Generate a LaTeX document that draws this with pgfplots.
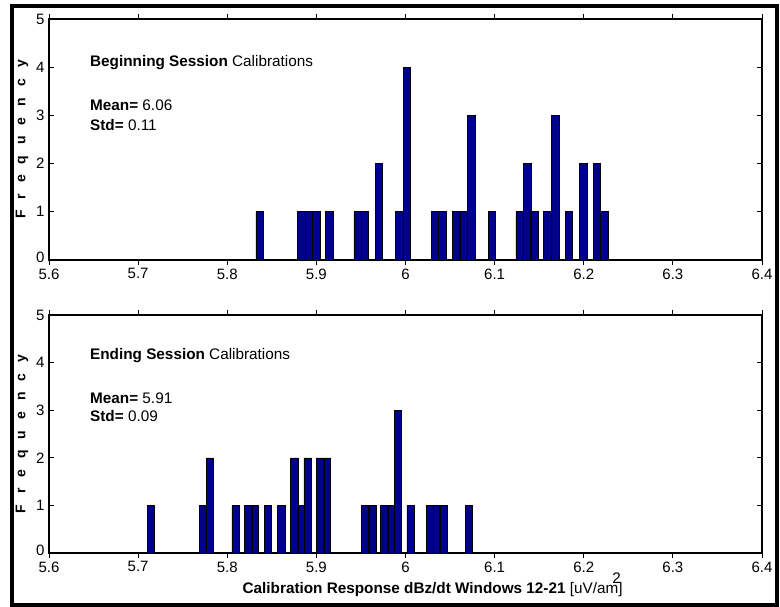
\documentclass[border=0pt]{standalone}
\usepackage{pgfplots}
\pgfplotsset{compat=1.18}
\usepackage{fontspec}
\setmainfont{Liberation Sans}
\definecolor{barblue}{RGB}{0,0,143}
\tikzset{ann/.style={anchor=west, font=\fontsize{15.3}{17}\selectfont, inner sep=0pt}}
\newcommand{\gap}{\hspace{11pt}}
\pgfplotsset{
  hist/.style={
    width=713pt, scale only axis,
    xmin=5.6, xmax=6.4, ymin=0, ymax=5,
    xtick={5.6,5.7,5.8,5.9,6.0,6.1,6.2,6.3,6.4},
    ytick={0,1,2,3,4,5},
    yticklabels={\raisebox{5pt}{0},1,2,3,4,5},
    tick align=inside,
    major tick length=5pt,
    axis line style={line width=1.3pt},
    every tick/.style={black, line width=0.9pt},
    tick label style={font=\fontsize{15}{15}\selectfont},
    /pgf/number format/assume math mode=true,
    xticklabel style={yshift=0pt},
    yticklabel style={xshift=-1pt},
    ybar, bar width=0.0083,
    ylabel={\textbf{F\gap r\gap e\gap q\gap u\gap e\gap n\gap c\gap y}},
    ylabel style={at={(axis description cs:-0.038,0.5)}, anchor=center, font=\fontsize{14}{14}\selectfont},
    clip=false,
  },
  bars/.style={fill=barblue, draw=black, line width=0.6pt},
}
\begin{document}
\begin{tikzpicture}
\useasboundingbox (0,0) rectangle (780pt,-607pt);
\draw[line width=4pt] (12pt,-6.5pt) rectangle (777pt,-604.5pt);
\begin{axis}[hist, height=241pt, at={(49pt,-19pt)}, anchor=north west]
\addplot[bars] coordinates {
(5.8362,1) (5.8832,1) (5.8914,1) (5.8999,1) (5.9145,1)
(5.9462,1) (5.9543,1) (5.9700,2) (5.9932,1) (6.0016,4)
(6.0329,1) (6.0411,1) (6.0566,1) (6.0654,1) (6.0738,3)
(6.0969,1) (6.1281,1) (6.1365,2) (6.1446,1) (6.1593,1)
(6.1679,3) (6.1834,1) (6.1993,2) (6.2147,2) (6.2229,1)
};
\node[ann] at (axis cs:5.646,4.1) {\textbf{Beginning Session} Calibrations};
\node[ann] at (axis cs:5.646,3.22) {\textbf{Mean=} 6.06};
\node[ann] at (axis cs:5.646,2.80) {\textbf{Std=} 0.11};
\end{axis}
\begin{axis}[hist, height=238pt, at={(49pt,-315pt)}, anchor=north west,
  xlabel={\textbf{Calibration Response dBz/dt Windows 12-21} [uV/a\rlap{\hspace{0.45em}\raisebox{1.25ex}{2}}m]},
  xlabel style={at={(rel axis cs:0.538,0)}, yshift=-32pt, anchor=center, font=\fontsize{15.3}{17}\selectfont}]
\addplot[bars] coordinates {
(5.7145,1) (5.7728,1) (5.7807,2) (5.8093,1) (5.8236,1)
(5.8312,1) (5.8458,1) (5.8606,1) (5.8752,2) (5.8826,1)
(5.8901,2) (5.9042,2) (5.9117,2) (5.9549,1) (5.9627,1)
(5.9763,1) (5.9836,1) (5.9914,3) (6.0057,1) (6.0276,1)
(6.0351,1) (6.0425,1) (6.0712,1)
};
\node[ann] at (axis cs:5.646,4.15) {\textbf{Ending Session} Calibrations};
\node[ann] at (axis cs:5.646,3.25) {\textbf{Mean=} 5.91};
\node[ann] at (axis cs:5.646,2.87) {\textbf{Std=} 0.09};
\end{axis}
\end{tikzpicture}
\end{document}
